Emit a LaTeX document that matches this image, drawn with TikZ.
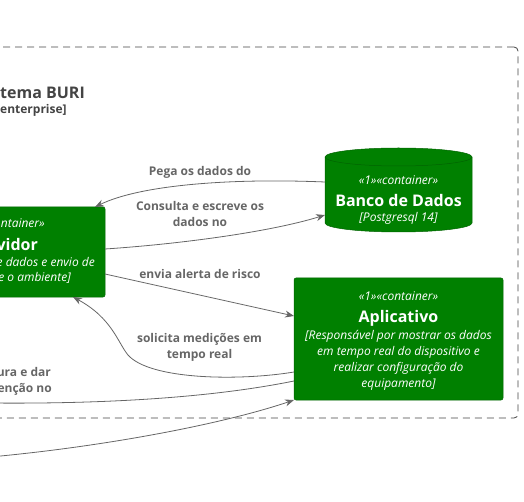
\documentclass[tikz,border=0pt]{standalone}
\usepackage{fontspec}
\setmainfont{Open Sans}
\usetikzlibrary{arrows.meta}
\definecolor{cgreen}{RGB}{0,128,0}
\definecolor{cborder}{RGB}{0,100,0}
\definecolor{lblgrey}{RGB}{102,102,102}
\definecolor{ttlgrey}{RGB}{68,68,68}
\definecolor{bndgrey}{RGB}{68,68,68}
\begin{document}
\begin{tikzpicture}[x=1pt,y=-1pt,
  box/.style={draw=cborder, line width=0.5pt, fill=cgreen, rounded corners=2pt, inner sep=0pt, outer sep=0pt},
  stereo/.style={text=white, font=\fontsize{12}{14}\selectfont\itshape, anchor=base, inner sep=0pt},
  nmtext/.style={text=white, font=\fontsize{16}{18}\selectfont\bfseries, anchor=base, inner sep=0pt},
  descr/.style={text=white, font=\fontsize{12}{16}\selectfont\itshape, anchor=base, inner sep=0pt},
  lbl/.style={text=lblgrey, font=\fontsize{12}{16}\selectfont\bfseries, anchor=base, inner sep=0pt},
  ttl/.style={text=ttlgrey, font=\fontsize{16}{18}\selectfont\bfseries, anchor=base west, inner sep=0pt},
  ttlsub/.style={text=ttlgrey, font=\fontsize{12}{14}\selectfont\bfseries, anchor=base west, inner sep=0pt},
  rel/.style={draw=lblgrey, line width=0.8pt, -{Stealth[length=9pt,width=7pt]}},
  bound/.style={draw=bndgrey, line width=0.8pt, dash pattern=on 7pt off 5pt, rounded corners=4pt, inner sep=0pt, outer sep=0pt}
]
\useasboundingbox (0,0) rectangle (524,502);
\clip (0,0) rectangle (524,502);

% boundary
\node[bound, minimum width=560pt, minimum height=371pt, anchor=north east] (bnd) at (518,47) {};
\node[ttl] (ttl1) at (0,99) {tema BURI};
\node[ttlsub] (ttl2) at (0,114) {enterprise]};

% Servidor (partly outside)
\node[box, minimum width=225pt, minimum height=90pt, anchor=north east] (srv) at (105,207) {};
\node[stereo, anchor=base east] (srvst) at (45,228) {ntainer»};
\node[nmtext, anchor=base east] (srvnm) at (38,251) {vidor};
\node[descr, anchor=base east] (srvd1) at (95,267) {e dados e envio de};
\node[descr, anchor=base east] (srvd2) at (71,282) {e o ambiente]};

% Banco de Dados (cylinder)
\node[minimum width=147pt, minimum height=84pt, inner sep=0pt, outer sep=0pt] (db) at (398.5,190) {};
\path[fill=cgreen, draw=cborder, line width=0.5pt] (325,157) -- (325,223)
   arc[start angle=180, end angle=360, x radius=73.5pt, y radius=9pt] -- (472,157)
   arc[start angle=0, end angle=180, x radius=73.5pt, y radius=9pt] -- cycle;
\draw[cborder, line width=0.5pt] (325,157) arc[start angle=180, end angle=360, x radius=73.5pt, y radius=9pt];
\node[stereo] (dbst) at (398.5,185) {«1»«container»};
\node[nmtext] (dbnm) at (398.5,206.5) {Banco de Dados};
\node[descr] (dbd1) at (398.5,222) {[Postgresql 14]};

% Aplicativo
\node[box, minimum width=209pt, minimum height=122pt] (app) at (398.5,339) {};
\node[stereo] (appst) at (398.5,300) {«1»«container»};
\node[nmtext] (appnm) at (398.5,322.5) {Aplicativo};
\node[descr] (appd1) at (398.5,339) {[Responsável por mostrar os dados};
\node[descr] (appd2) at (398.5,355) {em tempo real do dispositivo e};
\node[descr] (appd3) at (398.5,371) {realizar configuração do};
\node[descr] (appd4) at (398.5,387) {equipamento]};

% connectors
\draw[rel] ([yshift=8pt]db.west) .. controls (230,178) and (140,185) .. ([xshift=-10pt]srv.north east);
\draw[rel] ([yshift=3pt]srv.east) .. controls (180,244) and (270,232) .. ([yshift=-25pt]db.west);
\draw[rel] ([yshift=-22pt]srv.east) -- ([yshift=23pt]app.west);
\draw[rel] ([yshift=-33pt]app.west) .. controls (240,381) and (150,380) .. (128,355)
   .. controls (118,343) and (112,318) .. ([xshift=-32pt]srv.south east);
\coordinate (offL1) at (-12,403);
\draw[rel] ([yshift=-42pt]app.west) .. controls (220,396) and (120,404) .. (offL1);
\coordinate (offL2) at (-10,457);
\draw[rel] (offL2) .. controls (100,447) and (220,425) .. (app.south west);

% labels
\node[lbl] (l1) at (200,176) {Pega os dados do};
\node[lbl] (l2a) at (200,211) {Consulta e escreve os};
\node[lbl] (l2b) at (200,227) {dados no};
\node[lbl] (l3) at (200,279) {envia alerta de risco};
\node[lbl] (l4a) at (199.5,342) {solicita medições em};
\node[lbl] (l4b) at (199.5,358) {tempo real};
\node[lbl, anchor=base east] (l5a) at (51,376) {ura e dar};
\node[lbl, anchor=base east] (l5b) at (52,392) {enção no};
\end{tikzpicture}
\end{document}
